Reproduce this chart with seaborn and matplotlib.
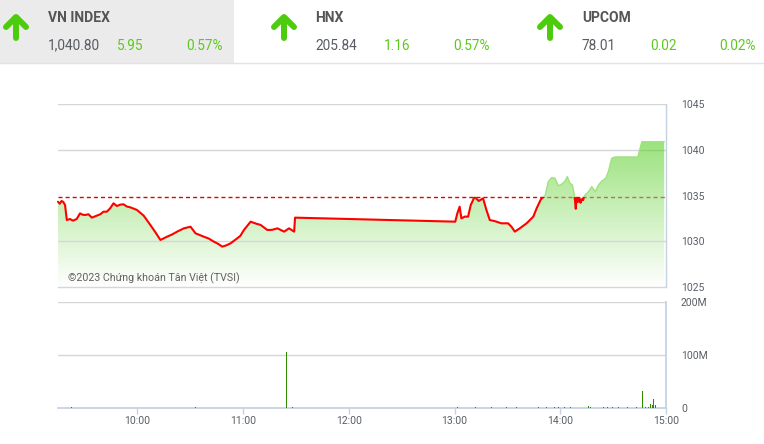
import numpy as np
import pandas as pd
import matplotlib
matplotlib.use("Agg")
import matplotlib.pyplot as plt
import matplotlib.patches as mpatches
from matplotlib.colors import LinearSegmentedColormap
import seaborn as sns

# ---------------- data ----------------
ref_close = 1034.85
headers = ["VN INDEX", "HNX", "UPCOM"]
header_values = ["1,040.80", "205.84", "78.01"]
header_changes = ["5.95", "1.16", "0.02"]
header_pcts = ["0.57%", "0.57%", "0.02%"]

# minutes after 09:00
price_time = [15, 16, 17, 18, 19, 20, 21.8, 23.5, 25.6, 27.5, 29, 30.4, 32.3, 34.2, 37, 39, 40.8,
              42.7, 44.6, 46.5, 48.4, 50.3, 52.2, 54, 56, 59.8, 63.6, 67.4, 70.2, 73.1, 76.9, 79.8,
              82.6, 86.4, 90.2, 93, 97.7, 100.5, 103.4, 106, 108.2, 110.5, 112.9, 116.7, 118.5,
              120.5, 124.3, 127, 130, 133.8, 136.5, 139.5, 143.3, 146.1, 149, 149.5,
              240.4, 241.6, 242.9, 243.9, 245.8, 247.7, 249.2, 251.4, 253.7, 256.2, 258.1, 260,
              262.8, 266.6, 270.4, 272.3, 274.2, 277, 280.9, 284.7, 286.6, 289.1, 291.4, 293.2,
              295.1, 297, 298.9, 300.8, 302.7, 304, 305.5, 306.9, 308, 308.5, 308.8, 309.2, 310,
              310.8, 311.5, 312.2, 313, 313.5, 314.3, 316, 317.9, 319.8, 321.7, 323.6, 325.8,
              327.3, 329.2, 331.1, 344, 346.3, 359]
price_value = [1034.32, 1034.1, 1034.4, 1034.3, 1033.96, 1032.32, 1032.43, 1032.25, 1032.43, 1033.05,
               1032.9, 1032.87, 1032.95, 1032.58, 1032.8, 1032.95, 1033.23,
               1033.23, 1033.6, 1034.15, 1033.85, 1034.0, 1034.04, 1033.8, 1033.71, 1033.42, 1032.8,
               1031.78, 1031.0, 1030.14, 1030.5, 1030.75,
               1031.05, 1031.41, 1031.59, 1030.87, 1030.5, 1030.3, 1029.96, 1029.7, 1029.41, 1029.55,
               1029.77, 1030.32, 1030.6,
               1031.23, 1032.14, 1031.95, 1031.78, 1031.23, 1031.25, 1031.41, 1031.05, 1031.41,
               1031.05, 1032.58,
               1032.14, 1033.05, 1033.78, 1032.5, 1032.69, 1032.69, 1033.96, 1034.87, 1034.4,
               1034.69, 1033.42, 1032.32,
               1032.2, 1031.96, 1031.96, 1031.59, 1031.05, 1031.41, 1031.96, 1032.69, 1033.6,
               1034.62, 1034.98, 1036.51,
               1036.95, 1036.9, 1036.07, 1036.23, 1036.58, 1037.07, 1036.33, 1036.15, 1035.05,
               1034.2, 1033.55, 1034.7, 1034.3,
               1034.8, 1034.2, 1034.6, 1034.5, 1034.9, 1035.1, 1035.42, 1035.97, 1035.42, 1036.15,
               1036.58, 1036.88,
               1037.61, 1039.07, 1039.21, 1039.21, 1040.88, 1040.88]

vol_time = [15, 22.6, 28, 33.8, 57.1, 65.4, 70.5, 92.8, 95.4, 103.2, 115.3, 132.7, 144.6, 148.2,
            241.5, 251.8, 261.2, 269.4, 275.1, 287.6, 292.2, 296.6, 299.2, 302.6, 305.7, 307.8,
            316.1, 317.4, 324.4, 327, 329.5, 332.9, 338.1, 343.3, 346.6, 348.4, 350.2, 351.3,
            352.3, 353.1, 353.9, 354.9]
vol_million = [3, 1, 0.8, 0.8, 0.8, 0.8, 0.8, 1, 0.8, 0.8, 0.8, 0.8, 105, 1,
               2, 1, 1, 1, 1.5, 1, 1, 1.5, 1.5, 1.5, 1.5, 1,
               3, 1.5, 1.5, 1.5, 1.5, 1.5, 1, 1, 33, 2, 2, 8,
               5, 17, 5, 3]

price_ticks = [1025, 1030, 1035, 1040, 1045]
vol_ticks = [0, 100, 200]
vol_tick_labels = ["0", "100M", "200M"]
hour_ticks = [60, 120, 180, 240, 300, 360]
hour_labels = ["10:00", "11:00", "12:00", "13:00", "14:00", "15:00"]

price_df = pd.DataFrame({"t": price_time, "v": price_value})
vol_df = pd.DataFrame({"t": vol_time, "m": vol_million})

# ---------------- style ----------------
sns.set_theme(style="white")
plt.rcParams["font.family"] = ["Roboto", "DejaVu Sans"]

W, H = 764, 444
fig = plt.figure(figsize=(W / 100, H / 100), dpi=100)
fig.patch.set_facecolor("white")

def fa(x0, y0, x1, y1):
    return [x0 / W, 1 - y1 / H, (x1 - x0) / W, (y1 - y0) / H]

XMIN, XMAX = 15, 360
GRID = "#d6d6d6"
AXBLUE = "#c5d2e2"
TXT = "#5a5f66"

# ---------------- price axes ----------------
ax = fig.add_axes(fa(58, 104, 666, 287))
ax.set_facecolor("white")

# gradient fill below the line
poly = ax.fill_between(price_df["t"], price_df["v"], 1025, color="none", lw=0)
cmap = LinearSegmentedColormap.from_list("g", ["#ffffff", "#44ca0d"])
grad = np.linspace(0, 1, 256).reshape(-1, 1)
img = ax.imshow(grad, extent=[XMIN, XMAX, 1025, 1041.2], origin="lower", aspect="auto",
                cmap=cmap, alpha=0.55, zorder=2)
img.set_clip_path(poly.get_paths()[0], transform=ax.transData)

# reference line (under the fill)
ax.axhline(ref_close, color="#e60000", lw=1.0, dashes=(2.9, 2.2), zorder=1.5)

# line: red below reference, green above
sns.lineplot(data=price_df, x="t", y="v", ax=ax, color="#ff0000", lw=1.5,
             estimator=None, sort=False, zorder=4)
red_line = ax.lines[-1]
red_line.set_clip_path(mpatches.Rectangle((0, 1000), 500, ref_close - 1000, transform=ax.transData))
sns.lineplot(data=price_df, x="t", y="v", ax=ax, color="#9fe27f", lw=1.0,
             estimator=None, sort=False, zorder=3)
green_line = ax.lines[-1]
green_line.set_clip_path(mpatches.Rectangle((0, ref_close), 500, 100, transform=ax.transData))

ax.set_xlim(XMIN, XMAX)
ax.set_ylim(1025, 1045)
for yv in [1030, 1040, 1045]:
    ax.axhline(yv, color=GRID, lw=1, zorder=2.5 if yv == 1030 else 0.5)
ax.set_yticks(price_ticks)
ax.set_yticklabels([str(p) for p in price_ticks])
ax.yaxis.tick_right()
ax.tick_params(axis="y", length=0, pad=10.8, labelsize=7.5, labelcolor=TXT)
ax.set_xticks([])
ax.set_xlabel("")
ax.set_ylabel("")
for s in ["left", "top"]:
    ax.spines[s].set_visible(False)
ax.spines["right"].set_color(AXBLUE)
ax.spines["right"].set_linewidth(1)
ax.spines["bottom"].set_color(GRID)
ax.spines["bottom"].set_linewidth(1)
ax.grid(False)

# ---------------- volume axes ----------------
vax = fig.add_axes(fa(58, 302, 666, 408))
vax.bar(vol_df["t"], vol_df["m"], width=0.55, color="#2e8b00", lw=0, zorder=3)
vax.set_xlim(XMIN, XMAX)
vax.set_ylim(0, 200)
for yv in [100, 200]:
    vax.axhline(yv, color=GRID, lw=1, zorder=1)
vax.set_yticks(vol_ticks)
vax.set_yticklabels(vol_tick_labels)
vax.yaxis.tick_right()
vax.tick_params(axis="y", length=0, pad=10.8, labelsize=7.5, labelcolor=TXT)
vax.set_xticks(hour_ticks)
vax.set_xticklabels(hour_labels)
vax.tick_params(axis="x", length=4.3, width=1, color=AXBLUE, pad=1.5, labelsize=7.5,
                labelcolor=TXT, bottom=True)
for s in ["left", "top"]:
    vax.spines[s].set_visible(False)
vax.spines["right"].set_color(AXBLUE)
vax.spines["bottom"].set_color(AXBLUE)
vax.grid(False)

# ---------------- header overlay ----------------
hx = fig.add_axes([0, 0, 1, 1], zorder=-1)
hx.set_xlim(0, W)
hx.set_ylim(H, 0)
hx.axis("off")
hx.add_patch(mpatches.Rectangle((0, 0), 234, 63, color="#ebebeb", lw=0))
hx.plot([0, W], [63, 63], color="#e3e3e3", lw=1)

hover = fig.add_axes([0, 0, 1, 1], zorder=5)
hover.set_xlim(0, W)
hover.set_ylim(H, 0)
hover.axis("off")
hover.patch.set_alpha(0)

GREEN_TXT = "#5cc91c"
ARROW = "#4ccc0c"
arrow_x = [16, 284, 550]
name_x = [48, 315, 582]
chg_x = [117, 384, 650]
pct_x = [186, 453, 719]
for i in range(3):
    cx = arrow_x[i]
    hover.plot([cx, cx], [18, 38.5], color=ARROW, lw=4.3, solid_capstyle="round")
    hover.plot([cx - 10, cx, cx + 10], [27, 17, 27], color=ARROW, lw=4.3,
               solid_capstyle="round", solid_joinstyle="round")
    hover.text(name_x[i], 18, headers[i], fontsize=10, fontweight="bold", color="#555555",
               va="center", ha="left")
    hover.text(name_x[i], 45.5, header_values[i], fontsize=9.8, color="#585c62",
               va="center", ha="left")
    hover.text(chg_x[i], 45.5, header_changes[i], fontsize=9.8, color=GREEN_TXT,
               va="center", ha="left")
    hover.text(pct_x[i], 45.5, header_pcts[i], fontsize=9.8, color=GREEN_TXT,
               va="center", ha="left")

hover.text(68, 278, "©2023 Chứng khoán Tân Việt (TVSI)", fontsize=7.7, color="#606060",
           va="center", ha="left")

fig.savefig("out.png", dpi=100)
